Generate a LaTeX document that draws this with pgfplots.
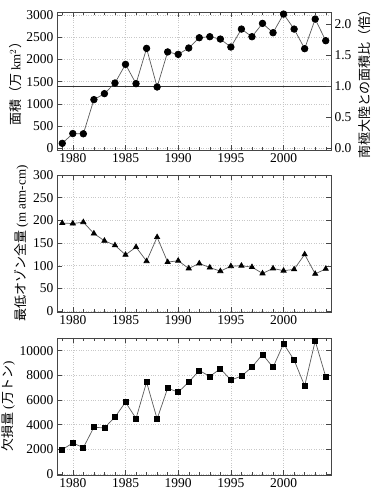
\documentclass[border=0pt]{standalone}
\usepackage{pgfplots}
\pgfplotsset{compat=1.18}
\usepackage{fontspec}
\setmainfont{Liberation Serif}
\newfontfamily\cjk{Noto Sans CJK JP}
\definecolor{framec}{RGB}{70,70,70}
\definecolor{linec}{RGB}{90,90,90}
\definecolor{gridc}{RGB}{200,200,200}

\pgfplotstableread{
year area ozone loss
1979 110 194 1980
1980 330 193 2520
1981 325 196 2140
1982 1095 171 3790
1983 1230 155 3740
1984 1470 145 4610
1985 1890 124 5830
1986 1455 141 4500
1987 2250 110 7450
1988 1380 163 4470
1989 2170 108 6960
1990 2115 111 6640
1991 2258 94 7450
1992 2490 105 8400
1993 2513 96 7910
1994 2460 88 8540
1995 2280 99 7620
1996 2685 100 7940
1997 2513 97 8670
1998 2813 83 9700
1999 2603 94 8650
2000 3023 89 10570
2001 2685 92 9240
2002 2243 125 7150
2003 2910 82 10790
2004 2423 93 7890
}\datatable

\pgfplotsset{
  mybase/.style={
    scale only axis, width=274pt,
    xmin=1978.5, xmax=2004.5,
    xtick={1980,1985,1990,1995,2000},
    minor xtick={1979,...,2004},
    x tick label style={/pgf/number format/1000 sep={}},
    tick align=inside,
    major tick length=5pt, minor tick length=3pt,
    axis line style={framec, line width=0.6pt},
    every tick/.style={framec},
    grid=major,
    major grid style={gridc, dotted, line width=0.6pt},
    /pgf/number format/assume math mode=true,
    tick label style={font=\rmfamily\fontsize{13.5}{14}\selectfont},
    label style={font=\rmfamily\fontsize{13}{14}\selectfont},
    xtick pos=both,
    scaled y ticks=false,
    ylabel style={yshift=-2pt},
  },
}

\begin{document}
\begin{tikzpicture}
\useasboundingbox (0,0) rectangle (371pt,502pt);

% Panel 1
\begin{axis}[mybase, at={(57pt,352pt)}, anchor=south west, height=138pt,
  ymin=-40, ymax=3070, ytick={0,500,...,3000},
  ytick pos=left,
  ylabel={{\cjk 面積（万} km$^2${\cjk ）}},
  /pgf/number format/1000 sep={},
]
\addplot[black!80, line width=0.6pt] coordinates {(1978.5,1400) (2004.5,1400)};
\addplot[linec, line width=0.7pt, mark=*, mark size=3.3pt, mark options={black, fill=black}] table[x=year, y=area] {\datatable};
\end{axis}
\begin{axis}[scale only axis, width=274pt, height=138pt, at={(57pt,352pt)}, anchor=south west,
  xmin=1978.5, xmax=2004.5, axis x line=none,
  ymin=-0.02857, ymax=2.19286, ytick={0,0.5,...,2.0},
  axis y line*=right, y axis line style={framec, line width=0.6pt}, every tick/.style={framec},
  tick align=inside, major tick length=5pt,
  yticklabel style={/pgf/number format/fixed, /pgf/number format/fixed zerofill, /pgf/number format/precision=1, font=\rmfamily\fontsize{13.5}{14}\selectfont},
  /pgf/number format/assume math mode=true,
  ylabel={\cjk 南極大陸との面積比（倍）},
  ylabel style={font=\fontsize{13}{14}\selectfont},
]
\addplot[draw=none] coordinates {(1980,1)};
\end{axis}

% Panel 2
\begin{axis}[mybase, at={(57pt,190pt)}, anchor=south west, height=137pt,
  ymin=-2, ymax=300, ytick={0,50,...,300}, ytick pos=both,
  ylabel={{\cjk 最低オゾン全量} (m atm-cm)},
]
\addplot[linec, line width=0.7pt, mark=triangle*, mark size=3pt, mark options={black, fill=black}] table[x=year, y=ozone] {\datatable};
\end{axis}

% Panel 3
\begin{axis}[mybase, at={(57pt,27pt)}, anchor=south west, height=137pt,
  ymin=-80, ymax=11030, ytick={0,2000,...,10000}, ytick pos=both,
  ylabel={{\cjk 欠損量} ({\cjk 万トン})},
  /pgf/number format/1000 sep={},
]
\addplot[linec, line width=0.7pt, mark=square*, mark size=2.5pt, mark options={black, fill=black}] table[x=year, y=loss] {\datatable};
\end{axis}
\end{tikzpicture}
\end{document}
